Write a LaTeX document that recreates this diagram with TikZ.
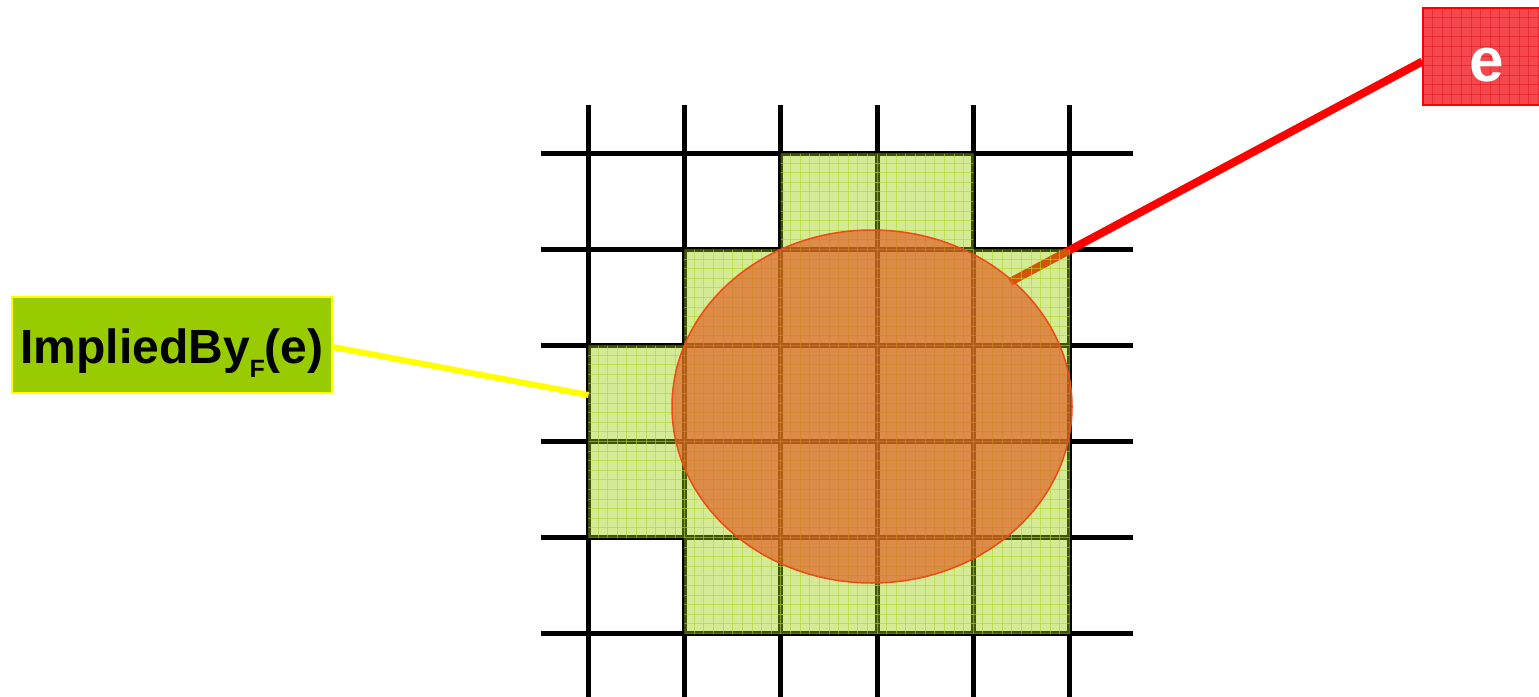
\documentclass[tikz,border=0pt]{standalone}
\usepackage{fontspec}
\setmainfont{Liberation Sans}
\usetikzlibrary{shapes.geometric}
\definecolor{cellgreen}{RGB}{153,204,0}
\definecolor{hatchgreen}{RGB}{175,215,40}
\definecolor{labgreen}{RGB}{153,204,0}
\definecolor{labyellow}{RGB}{255,255,0}
\definecolor{boxred}{RGB}{244,72,78}
\definecolor{hatchred}{RGB}{225,20,25}
\definecolor{blobfill}{RGB}{225,95,35}
\definecolor{blobedge}{RGB}{235,75,20}
\begin{document}
\begin{tikzpicture}[x=1pt,y=-1pt,
  gridline/.style={line width=5pt,black},
  redline/.style={line width=8pt,red},
  yelline/.style={line width=6pt,labyellow},
  labelbox/.style={draw=labyellow,line width=1.5pt,fill=labgreen,minimum width=320pt,minimum height=96pt,inner sep=0pt,text height=36pt,text depth=0pt,font=\bfseries\fontsize{48}{48}\selectfont},
  ebox/.style={draw=red,line width=1.5pt,fill=boxred,minimum width=128pt,minimum height=97pt,inner sep=0pt,text height=49pt,text depth=0pt,text=white,font=\bfseries\fontsize{62}{62}\selectfont,
    path picture={
      \foreach \k in {0,...,13} {
        \draw[line width=0.8pt,hatchred,opacity=0.5] ([xshift=9.6*\k pt]path picture bounding box.north west) -- ([xshift=9.6*\k pt]path picture bounding box.south west);
        \draw[line width=0.8pt,hatchred,opacity=0.5] ([yshift=-9.6*\k pt]path picture bounding box.north west) -- ([yshift=-9.6*\k pt]path picture bounding box.north east);
      }
    }},
  blobstyle/.style={ellipse,draw=blobedge,line width=1.5pt,fill=blobfill,fill opacity=0.68,minimum width=400pt,minimum height=353pt,inner sep=0pt},
  hatch/.style={line width=1pt,hatchgreen,opacity=0.6}
]
\useasboundingbox (0,0) rectangle (1539,696);
\clip (0,0) rectangle (1539,696);
% grid
\foreach \x in {588.5,684.7,780.9,877.1,973.3,1069.5}
  \draw[gridline] (\x,105) -- (\x,700);
\foreach \y in {153.5,249.5,345.5,441.5,537.5,633.5}
  \draw[gridline] (541,\y) -- (1133,\y);
% e box
\node[ebox] (e) at (1487,56.5) {e};
\coordinate (ehit) at (1010,282);
\draw[redline] ([yshift=-5pt]e.west) -- (ehit);
% green cells
\path[fill=cellgreen,fill opacity=0.42]
  (780.9,153.5) -- (973.3,153.5) -- (973.3,249.5) -- (1069.5,249.5) -- (1069.5,633.5)
  -- (684.7,633.5) -- (684.7,537.5) -- (588.5,537.5) -- (588.5,345.5) -- (684.7,345.5)
  -- (684.7,249.5) -- (780.9,249.5) -- cycle;
\begin{scope}
  \clip (780.9,153.5) -- (973.3,153.5) -- (973.3,249.5) -- (1069.5,249.5) -- (1069.5,633.5)
  -- (684.7,633.5) -- (684.7,537.5) -- (588.5,537.5) -- (588.5,345.5) -- (684.7,345.5)
  -- (684.7,249.5) -- (780.9,249.5) -- cycle;
  \foreach \k in {0,...,50} {
    \draw[hatch] (588.5+9.62*\k,150) -- (588.5+9.62*\k,640);
    \draw[hatch] (580,153.5+9.6*\k) -- (1075,153.5+9.6*\k);
  }
\end{scope}
% ellipse
\node[blobstyle] (blob) at (872,406.5) {};
% label
\node[labelbox] (impl) at (172,345) {ImpliedBy\raisebox{-14pt}{\fontsize{25}{25}\selectfont F}(e)};
\coordinate (yhit) at (588.5,395);
\draw[yelline] ([yshift=-2pt]impl.east) -- (yhit);
\end{tikzpicture}
\end{document}
